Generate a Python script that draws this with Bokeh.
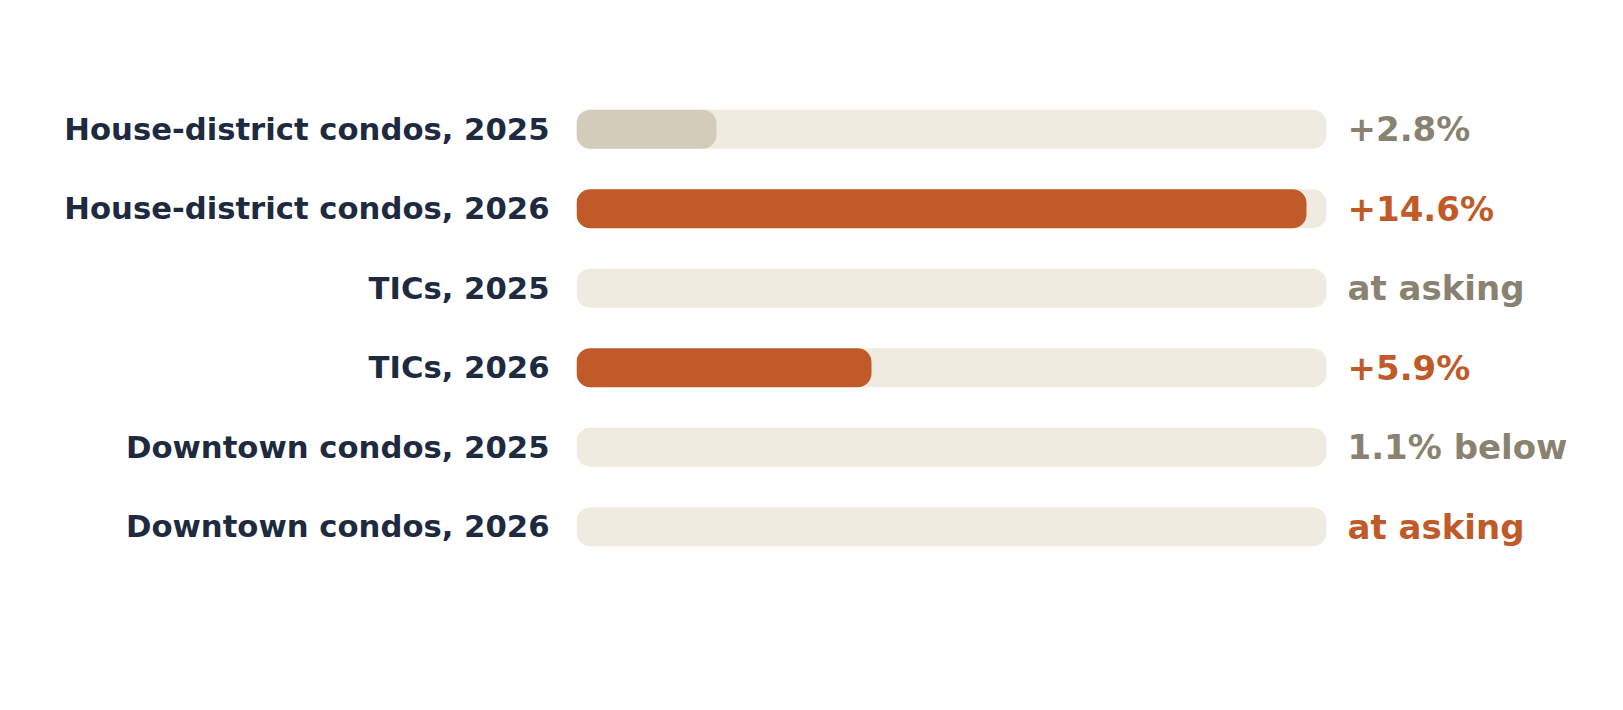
from bokeh.plotting import figure
from bokeh.models import Range1d, FactorRange, ColumnDataSource
from bokeh.core.properties import value
from bokeh.embed import file_html
from bokeh.resources import INLINE

labels = ["House-district condos, 2025", "House-district condos, 2026",
          "TICs, 2025", "TICs, 2026",
          "Downtown condos, 2025", "Downtown condos, 2026"]
values = [2.8, 14.6, 0.0, 5.9, -1.1, 0.0]
value_labels = ["+2.8%", "+14.6%", "at asking", "+5.9%", "1.1% below", "at asking"]
years = [2025, 2026, 2025, 2026, 2025, 2026]
track_max = 15.0

NAVY = "#1E2A40"
ORANGE = "#C05A28"
GREY_BAR = "#D4CCBB"
GREY_TXT = "#8A8270"
TRACK = "#F0EBE1"

W, H = 1607, 694
frame_left = 576
px_per_unit = 50.0
x_end = (W - frame_left) / px_per_unit

p = figure(width=W, height=H, output_backend="svg", toolbar_location=None,
           x_range=Range1d(0, x_end),
           y_range=FactorRange(factors=list(reversed(labels)), range_padding=0),
           min_border_left=frame_left, min_border_right=0,
           min_border_top=89, min_border_bottom=128)
p.outline_line_color = None
p.background_fill_color = "white"
p.border_fill_color = "white"
p.xgrid.visible = False
p.ygrid.visible = False
p.xaxis.visible = False

ya = p.yaxis[0]
ya.axis_line_color = None
ya.major_tick_line_color = None
ya.minor_tick_line_color = None
ya.major_tick_out = 0
ya.major_tick_in = 0
ya.major_label_standoff = 27
ya.major_label_text_font = "DejaVu Sans"
ya.major_label_text_font_style = "bold"
ya.major_label_text_font_size = "30.7px"
ya.major_label_text_color = NAVY

bar_h = 39 / 79.5

# tracks
p.hbar(y=labels, left=0, right=[track_max] * len(labels), height=bar_h,
       fill_color=TRACK, line_color=None, border_radius=14)

# value bars
bl, br, bc = [], [], []
for lab, v, yr in zip(labels, values, years):
    if v > 0:
        bl.append(lab)
        br.append(v)
        bc.append(ORANGE if yr == 2026 else GREY_BAR)
p.hbar(source=ColumnDataSource(dict(y=bl, right=br, color=bc)),
       y="y", left=0, right="right", height=bar_h,
       fill_color="color", line_color=None, border_radius=14)

# value labels
tc = [ORANGE if yr == 2026 else GREY_TXT for yr in years]
p.text(source=ColumnDataSource(dict(y=labels, t=value_labels, c=tc,
                                    x=[track_max + 0.42] * len(labels))),
       x="x", y="y", text="t", text_color="c",
       text_font=value("DejaVu Sans"), text_font_style="bold",
       text_font_size="34px", text_baseline="middle", text_align="left")

open("out.html", "w").write(file_html(p, INLINE))
